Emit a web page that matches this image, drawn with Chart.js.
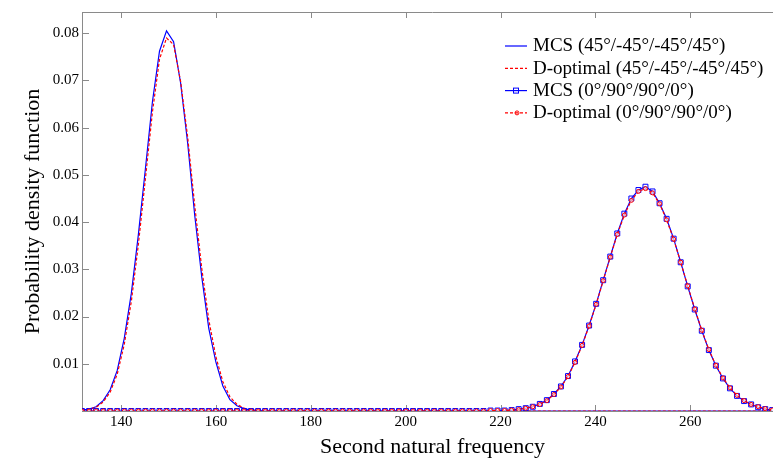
<!DOCTYPE html>
<html>
<head>
<meta charset="utf-8">
<script src="https://cdn.jsdelivr.net/npm/chart.js@4/dist/chart.umd.min.js"></script>
<style>
  html, body { margin: 0; padding: 0; background: #fff; overflow: hidden; }
</style>
</head>
<body>
<!-- the original plot runs a little past the right edge of the picture -->
<canvas id="pdfChart" width="783" height="461"></canvas>
<script>
// second natural frequency sample points
const freq = [
  131.75, 133.24, 134.72, 136.21, 137.69, 139.18, 140.66, 142.15, 143.63, 145.12,
  146.60, 148.09, 149.57, 151.06, 152.54, 154.03, 155.51, 157.00, 158.48, 159.97,
  161.45, 162.94, 164.42, 165.91, 167.39, 168.88, 170.36, 171.85, 173.33, 174.82,
  176.30, 177.79, 179.27, 180.76, 182.24, 183.73, 185.21, 186.70, 188.18, 189.67,
  191.15, 192.64, 194.12, 195.61, 197.09, 198.58, 200.06, 201.55, 203.03, 204.52,
  206.00, 207.49, 208.97, 210.46, 211.94, 213.43, 214.91, 216.40, 217.88, 219.37,
  220.85, 222.34, 223.82, 225.31, 226.79, 228.28, 229.76, 231.25, 232.73, 234.22,
  235.70, 237.19, 238.67, 240.16, 241.64, 243.13, 244.61, 246.10, 247.58, 249.07,
  250.55, 252.04, 253.52, 255.01, 256.49, 257.98, 259.46, 260.95, 262.43, 263.92,
  265.40, 266.89, 268.37, 269.86, 271.34, 272.83, 274.31, 275.80, 277.28
];

// MCS (45/-45/-45/45)
const pdfMcs45 = [
  0.0002, 0.0004, 0.0009, 0.0022, 0.0045, 0.0086, 0.0154, 0.0249, 0.0373, 0.0513,
  0.0655, 0.0762, 0.0805, 0.0782, 0.0695, 0.0567, 0.0415, 0.0284, 0.0175, 0.0104,
  0.0053, 0.0024, 0.0011, 0.0005, 0.0002, 0.0001, 0, 0, 0, 0,
  0, 0, 0, 0, 0, 0, 0, 0, 0, 0,
  0, 0, 0, 0, 0, 0, 0, 0, 0, 0,
  0, 0, 0, 0, 0, 0, 0, 0, 0, 0,
  0, 0, 0, 0, 0, 0, 0, 0, 0, 0,
  0, 0, 0, 0, 0, 0, 0, 0, 0, 0,
  0, 0, 0, 0, 0, 0, 0, 0, 0, 0,
  0, 0, 0, 0, 0, 0, 0, 0, 0
];

// D-optimal (45/-45/-45/45)
const pdfDopt45 = [
  0.0001, 0.0003, 0.0008, 0.0019, 0.0040, 0.0078, 0.0141, 0.0232, 0.0352, 0.0492,
  0.0633, 0.0745, 0.0790, 0.0776, 0.0698, 0.0580, 0.0436, 0.0302, 0.0193, 0.0115,
  0.0062, 0.0030, 0.0014, 0.0006, 0.0002, 0.0001, 0, 0, 0, 0,
  0, 0, 0, 0, 0, 0, 0, 0, 0, 0,
  0, 0, 0, 0, 0, 0, 0, 0, 0, 0,
  0, 0, 0, 0, 0, 0, 0, 0, 0, 0,
  0, 0, 0, 0, 0, 0, 0, 0, 0, 0,
  0, 0, 0, 0, 0, 0, 0, 0, 0, 0,
  0, 0, 0, 0, 0, 0, 0, 0, 0, 0,
  0, 0, 0, 0, 0, 0, 0, 0, 0
];

// MCS (0/90/90/0)
const pdfMcs0 = [
  0, 0, 0, 0, 0, 0, 0, 0, 0, 0,
  0, 0, 0, 0, 0, 0, 0, 0, 0, 0,
  0, 0, 0, 0, 0, 0, 0, 0, 0, 0,
  0, 0, 0, 0, 0, 0, 0, 0, 0, 0,
  0, 0, 0, 0, 0, 0, 0, 0, 0, 0,
  0, 0, 0, 0, 0, 0, 0, 0, 0.0001, 0.0001,
  0.0001, 0.0002, 0.0004, 0.0006, 0.0009, 0.0015, 0.0023, 0.0036, 0.0052, 0.0074,
  0.0105, 0.0140, 0.0181, 0.0227, 0.0277, 0.0327, 0.0376, 0.0418, 0.0450, 0.0468,
  0.0475, 0.0465, 0.0440, 0.0407, 0.0365, 0.0315, 0.0264, 0.0215, 0.0170, 0.0129,
  0.0096, 0.0069, 0.0048, 0.0032, 0.0021, 0.0014, 0.0008, 0.0004, 0.0002
];

// D-optimal (0/90/90/0)
const pdfDopt0 = [
  0, 0, 0, 0, 0, 0, 0, 0, 0, 0,
  0, 0, 0, 0, 0, 0, 0, 0, 0, 0,
  0, 0, 0, 0, 0, 0, 0, 0, 0, 0,
  0, 0, 0, 0, 0, 0, 0, 0, 0, 0,
  0, 0, 0, 0, 0, 0, 0, 0, 0, 0,
  0, 0, 0, 0, 0, 0, 0, 0, 0.0001, 0.0001,
  0.0001, 0.0002, 0.0003, 0.0006, 0.0009, 0.0014, 0.0022, 0.0035, 0.0051, 0.0073,
  0.0103, 0.0139, 0.0180, 0.0226, 0.0276, 0.0326, 0.0374, 0.0415, 0.0446, 0.0465,
  0.0471, 0.0462, 0.0439, 0.0405, 0.0364, 0.0315, 0.0265, 0.0216, 0.0171, 0.0130,
  0.0097, 0.0070, 0.0049, 0.0033, 0.0022, 0.0014, 0.0009, 0.0005, 0.0002
];

const xTicks = [140, 160, 180, 200, 220, 240, 260];
const yTicks = [0.01, 0.02, 0.03, 0.04, 0.05, 0.06, 0.07, 0.08];
const seriesLabels = [
  'MCS (45°/-45°/-45°/45°)',
  'D-optimal (45°/-45°/-45°/45°)',
  'MCS (0°/90°/90°/0°)',
  'D-optimal (0°/90°/90°/0°)'
];

const serif = '"Liberation Serif", "Times New Roman", serif';

function toPoints(ys) {
  return freq.map((x, i) => ({ x: x, y: ys[i] }));
}

// box lines + inward tick marks (the plot has ticks pointing into the area)
const framePlugin = {
  id: 'frame',
  beforeDatasetsDraw(chart) {
    const { ctx, chartArea } = chart;
    const { left, right, top, bottom } = chartArea;
    const xs = chart.scales.x, ys = chart.scales.y;
    ctx.save();
    ctx.strokeStyle = '#8a8a8a';
    ctx.lineWidth = 1;
    ctx.beginPath();
    ctx.moveTo(left + 0.5, top); ctx.lineTo(left + 0.5, bottom + 1);
    ctx.moveTo(left, top + 0.5); ctx.lineTo(right, top + 0.5);
    ctx.moveTo(left, bottom + 0.5); ctx.lineTo(right, bottom + 0.5);
    xTicks.forEach(v => {
      const px = Math.round(xs.getPixelForValue(v)) + 0.5;
      ctx.moveTo(px, bottom); ctx.lineTo(px, bottom - 6);
      ctx.moveTo(px, top); ctx.lineTo(px, top + 6);
    });
    yTicks.forEach(v => {
      const py = Math.round(ys.getPixelForValue(v)) + 0.5;
      ctx.moveTo(left, py); ctx.lineTo(left + 7, py);
    });
    ctx.stroke();
    ctx.restore();
  }
};

// legend inside the plot, top right
const legendPlugin = {
  id: 'insideLegend',
  afterDraw(chart) {
    const ctx = chart.ctx;
    const x0 = 505, x1 = 527, tx = 533;
    const rowY = [45.5, 67.8, 90.1, 112.4];
    ctx.save();
    ctx.font = '19px ' + serif;
    ctx.textBaseline = 'middle';
    ctx.fillStyle = '#000';
    chart.data.datasets.forEach((ds, i) => {
      const y = rowY[i];
      ctx.strokeStyle = ds.borderColor;
      ctx.lineWidth = ds.borderWidth;
      ctx.setLineDash(ds.borderDash || []);
      ctx.beginPath();
      ctx.moveTo(x0, y + 0.5); ctx.lineTo(x1, y + 0.5);
      ctx.stroke();
      ctx.setLineDash([]);
      if (ds.pointRadius > 0) {
        ctx.lineWidth = 1;
        const cx = (x0 + x1) / 2;
        if (ds.pointStyle === 'rect') {
          ctx.strokeRect(cx - 2.5, y - 2, 5, 5);
        } else {
          ctx.beginPath();
          ctx.arc(cx + 1, y + 0.5, 2, 0, Math.PI * 2);
          ctx.stroke();
        }
      }
      ctx.fillText(ds.label, tx, y + 1);
    });
    ctx.restore();
  }
};

new Chart(document.getElementById('pdfChart').getContext('2d'), {
  type: 'line',
  data: {
    datasets: [
      {
        label: seriesLabels[0],
        data: toPoints(pdfMcs45),
        borderColor: '#0000ff',
        borderWidth: 1.2,
        pointRadius: 0,
        tension: 0,
        order: 3
      },
      {
        label: seriesLabels[1],
        data: toPoints(pdfDopt45),
        borderColor: '#ff0000',
        borderWidth: 1.2,
        borderDash: [3, 2],
        pointRadius: 0,
        tension: 0,
        order: 2
      },
      {
        label: seriesLabels[2],
        data: toPoints(pdfMcs0),
        borderColor: '#0000ff',
        borderWidth: 1.2,
        pointStyle: 'rect',
        pointRadius: 3.5,
        pointBorderWidth: 1,
        pointBorderColor: '#0000ff',
        pointBackgroundColor: 'rgba(0,0,0,0)',
        tension: 0,
        order: 1
      },
      {
        label: seriesLabels[3],
        data: toPoints(pdfDopt0),
        borderColor: '#ff0000',
        borderWidth: 1.2,
        borderDash: [3, 2],
        pointStyle: 'circle',
        pointRadius: 2,
        pointBorderWidth: 1,
        pointBorderColor: '#ff0000',
        pointBackgroundColor: 'rgba(255,255,255,0.6)',
        tension: 0,
        order: 0
      }
    ]
  },
  options: {
    responsive: false,
    animation: false,
    devicePixelRatio: 1,
    events: [],
    layout: { autoPadding: false, padding: { top: 9, right: 0, bottom: 0, left: 0 } },
    plugins: {
      legend: { display: false },
      tooltip: { enabled: false }
    },
    scales: {
      x: {
        type: 'linear',
        min: 131.75,
        max: 279.55,
        afterBuildTicks: s => { s.ticks = xTicks.map(v => ({ value: v })); },
        afterFit: s => { s.height = 50; },
        grid: { drawOnChartArea: false, drawTicks: false },
        border: { display: false },
        ticks: {
          padding: 2,
          maxRotation: 0,
          color: '#000',
          font: { family: serif, size: 15 }
        },
        title: {
          display: true,
          text: 'Second natural frequency',
          color: '#000',
          font: { family: serif, size: 22 },
          padding: { top: 0, bottom: 1 }
        }
      },
      y: {
        min: 0,
        max: 0.0845,
        afterBuildTicks: s => { s.ticks = yTicks.map(v => ({ value: v })); },
        afterFit: s => { s.width = 82; },
        grid: { drawOnChartArea: false, drawTicks: false },
        border: { display: false },
        ticks: {
          padding: 3,
          color: '#000',
          font: { family: serif, size: 15 },
          callback: v => v.toFixed(2)
        },
        title: {
          display: true,
          text: 'Probability density function',
          color: '#000',
          font: { family: serif, size: 22 },
          padding: { top: 20, bottom: 0 }
        }
      }
    }
  },
  plugins: [framePlugin, legendPlugin]
});
</script>
</body>
</html>
